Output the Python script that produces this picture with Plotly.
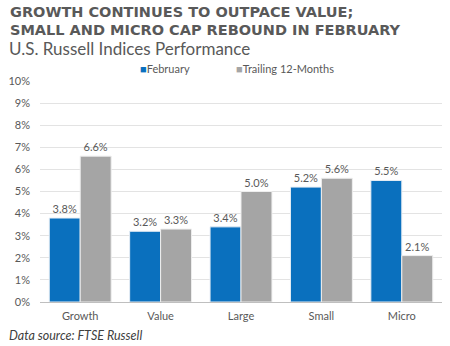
import plotly.graph_objects as go

categories = ["Growth", "Value", "Large", "Small", "Micro"]
february = [3.8, 3.2, 3.4, 5.2, 5.5]
trailing = [6.6, 3.3, 5.0, 5.6, 2.1]
series_names = ["February", "Trailing 12-Months"]
y_ticks = list(range(0, 11))
y_tick_labels = [f"{v}%" for v in y_ticks]

BLUE = "#0A70BE"
GRAY = "#A5A5A5"
TXT = "#595959"
FONT = "Lato, 'Open Sans', sans-serif"

L, R, T, B = 36, 8, 81, 44
W, H = 450, 346
plot_h = H - T - B
plot_w = W - L - R


def px_x(x):
    return (x - L) / plot_w


def px_y(y):
    return (H - B - y) / plot_h


fig = go.Figure()
fig.add_bar(x=categories, y=february, name=series_names[0],
            marker=dict(color=BLUE, line=dict(color="#E8EEF5", width=1)),
            text=[f"{v:.1f}%" for v in february], textposition="outside", cliponaxis=False,
            textfont=dict(size=11, color=TXT, family=FONT))
fig.add_bar(x=categories, y=trailing, name=series_names[1],
            marker=dict(color=GRAY, line=dict(color="#EEEEEE", width=1)),
            text=[f"{v:.1f}%" for v in trailing], textposition="outside", cliponaxis=False,
            textfont=dict(size=11, color=TXT, family=FONT))

fig.update_layout(
    width=W, height=H,
    margin=dict(l=L, r=R, t=T, b=B),
    paper_bgcolor="white", plot_bgcolor="white",
    barmode="group", bargap=0.23, bargroupgap=0,
    font=dict(family=FONT, size=11, color=TXT),
    showlegend=False,
    xaxis=dict(showgrid=False, showline=True, linecolor="#BFBFBF", linewidth=1,
               ticks="", tickfont=dict(size=11, color=TXT), ticklabelstandoff=4),
    yaxis=dict(range=[0, 10], tickvals=y_ticks, ticktext=y_tick_labels,
               showgrid=True, gridcolor="#E3E3E3", gridwidth=1, zeroline=False,
               tickfont=dict(size=11, color=TXT), ticks="", ticklabelstandoff=9),
)

# manual legend
for name, color, xpx in [(series_names[0], BLUE, 135), (series_names[1], GRAY, 232)]:
    fig.add_annotation(text=f"<span style='color:{color}'>■</span>{name}", x=px_x(xpx), y=px_y(68),
                       xref="paper", yref="paper", xanchor="left", yanchor="middle", showarrow=False,
                       font=dict(family=FONT, size=11, color=TXT))

fig.add_annotation(text="GROWTH CONTINUES TO OUTPACE VALUE;", x=px_x(4), y=px_y(2),
                   xref="paper", yref="paper", xanchor="left", yanchor="top", showarrow=False,
                   font=dict(family="DejaVu Sans", size=14.5, color=TXT, weight="bold"))
fig.add_annotation(text="SMALL AND MICRO CAP REBOUND IN FEBRUARY", x=px_x(4), y=px_y(20),
                   xref="paper", yref="paper", xanchor="left", yanchor="top", showarrow=False,
                   font=dict(family="DejaVu Sans", size=14.5, color=TXT, weight="bold"))
fig.add_annotation(text="U.S. Russell Indices Performance", x=px_x(3), y=px_y(36),
                   xref="paper", yref="paper", xanchor="left", yanchor="top", showarrow=False,
                   font=dict(family=FONT, size=17, color=TXT))
fig.add_annotation(text="<i>Data source: FTSE Russell</i>", x=px_x(3), y=px_y(326),
                   xref="paper", yref="paper", xanchor="left", yanchor="top", showarrow=False,
                   font=dict(family=FONT, size=12.5, color="#404040"))

fig.write_html("out.html")
